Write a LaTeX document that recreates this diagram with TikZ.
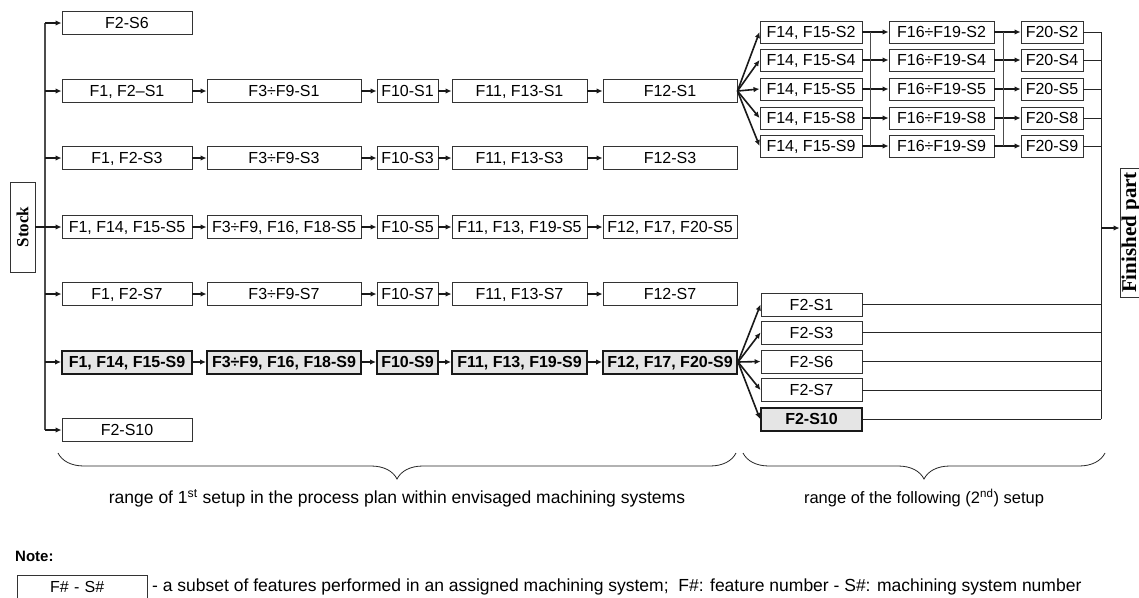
\documentclass[tikz,border=0pt]{standalone}
\usepackage{fontspec}
\setmainfont{Liberation Sans}
\newfontfamily\serifbold{Liberation Serif}
\usetikzlibrary{arrows.meta,decorations.pathreplacing}
\begin{document}
\begin{tikzpicture}[x=1pt,y=-1pt,
  box/.style={draw=black!80, line width=0.9pt, inner sep=0pt, minimum height=23pt,
              text height=11.5pt, text depth=0pt,
              font=\fontsize{16}{18}\selectfont},
  hbox/.style={box, line width=2pt, draw=black!90, fill=black!10,
              font=\fontsize{16}{18}\selectfont\bfseries},
  endbox/.style={draw=black!80, line width=0.9pt, inner sep=0pt, rotate=90,
              font=\serifbold\bfseries\fontsize{17}{19}\selectfont},
  arr/.style={-{Latex[length=6pt,width=5.5pt]}, line width=1.8pt, black!90},
  farr/.style={-{Latex[length=6pt,width=5.5pt]}, line width=1.6pt, black!90},
  conn/.style={line width=0.9pt, black!85},
  busline/.style={line width=1.2pt, black!70},
  brc/.style={decorate, decoration={brace, mirror, amplitude=26pt}, line width=0.8pt, black!85},
  lab/.style={font=\fontsize{17.5}{19}\selectfont}]

\useasboundingbox (0,0) rectangle (1139,597);

% Stock and bus
\node[endbox, minimum width=90pt, minimum height=25pt] (stock) at (22.5,227) {Stock};
\coordinate (bus) at (45,0);
\draw[busline] (45,23) -- (45,430);

% first setup rows
\node[box, minimum width=130pt] (a0) at (127,23) {F2-S6};

\node[box, minimum width=130pt] (r1a) at (127,91) {F1, F2–S1};
\node[box, minimum width=154pt] (r1b) at (284,91) {F3÷F9-S1};
\node[box, minimum width=61pt]  (r1c) at (407.5,91) {F10-S1};
\node[box, minimum width=135pt] (r1d) at (519.5,91) {F11, F13-S1};
\node[box, minimum width=134pt] (r1e) at (670,91) {F12-S1};

\node[box, minimum width=130pt] (r2a) at (127,158) {F1, F2-S3};
\node[box, minimum width=154pt] (r2b) at (284,158) {F3÷F9-S3};
\node[box, minimum width=61pt]  (r2c) at (407.5,158) {F10-S3};
\node[box, minimum width=135pt] (r2d) at (519.5,158) {F11, F13-S3};
\node[box, minimum width=134pt] (r2e) at (670,158) {F12-S3};

\node[box, minimum width=130pt] (r3a) at (127,227) {F1, F14, F15-S5};
\node[box, minimum width=154pt] (r3b) at (284,227) {F3÷F9, F16, F18-S5};
\node[box, minimum width=61pt]  (r3c) at (407.5,227) {F10-S5};
\node[box, minimum width=135pt] (r3d) at (519.5,227) {F11, F13, F19-S5};
\node[box, minimum width=134pt] (r3e) at (670,227) {F12, F17, F20-S5};

\node[box, minimum width=130pt] (r4a) at (127,294) {F1, F2-S7};
\node[box, minimum width=154pt] (r4b) at (284,294) {F3÷F9-S7};
\node[box, minimum width=61pt]  (r4c) at (407.5,294) {F10-S7};
\node[box, minimum width=135pt] (r4d) at (519.5,294) {F11, F13-S7};
\node[box, minimum width=134pt] (r4e) at (670,294) {F12-S7};

\node[hbox, minimum width=130pt] (r5a) at (127,362) {F1, F14, F15-S9};
\node[hbox, minimum width=154pt] (r5b) at (284,362) {F3÷F9, F16, F18-S9};
\node[hbox, minimum width=61pt]  (r5c) at (407.5,362) {F10-S9};
\node[hbox, minimum width=135pt] (r5d) at (519.5,362) {F11, F13, F19-S9};
\node[hbox, minimum width=134pt] (r5e) at (670,362) {F12, F17, F20-S9};

\node[box, minimum width=130pt] (a6) at (127,430) {F2-S10};

% arrows from bus / stock
\draw[arr] (stock.south) -- (r3a.west);
\foreach \n in {a0,r1a,r2a,r4a,r5a,a6} {\draw[arr] (bus |- \n.west) -- (\n.west);}
\foreach \r in {1,...,5} {
  \draw[arr] (r\r a) -- (r\r b);
  \draw[arr] (r\r b) -- (r\r c);
  \draw[arr] (r\r c) -- (r\r d);
  \draw[arr] (r\r d) -- (r\r e);
}

% second setup (top right)
\coordinate (cb) at (1101,0);
\foreach \s/\y in {2/32,4/60,5/89,8/118,9/146} {
  \node[box, minimum width=102pt, minimum height=22pt] (p\s) at (811,\y) {F14, F15-S\s};
  \node[box, minimum width=105pt, minimum height=22pt] (q\s) at (941.5,\y) {F16÷F19-S\s};
  \node[box, minimum width=62pt, minimum height=22pt]  (u\s) at (1052,\y) {F20-S\s};
  \draw[farr] (r1e.east) -- (p\s.west);
  \draw[farr] (p\s) -- (q\s);
  \draw[arr] (q\s) -- (u\s);
  \draw[conn] (u\s.east) -- (cb |- u\s.east);
}
\draw[busline] ([xshift=8pt]p2.east) -- ([xshift=8pt]p9.east);
\draw[busline] ([xshift=9pt]q2.east) -- ([xshift=9pt]q9.east);

% second setup (bottom right)
\foreach \s/\y in {1/304.5,3/332.5,6/361.5,7/390} {
  \node[box, minimum width=101pt] (v\s) at (811.5,\y) {F2-S\s};
  \draw[farr] (r5e.east) -- (v\s.west);
  \draw[conn] (v\s.east) -- (cb |- v\s.east);
}
\node[hbox, minimum width=101pt] (v10) at (811.5,419) {F2-S10};
\draw[farr] (r5e.east) -- (v10.west);
\draw[conn] (v10.east) -- (cb |- v10.east);

% collector and finished part
\draw[conn] (cb |- u2.east) -- (cb |- v10.east);
\node[endbox, minimum width=129pt, minimum height=22pt,
      font=\serifbold\bfseries\fontsize{21}{23}\selectfont] (fin) at (1131,232.5) {Finished part};
\coordinate (cf) at (1101,228);
\draw[arr] (cf) -- (cf -| fin.north);

% braces and labels
\draw[brc] (58,453) -- (736,453);
\draw[brc] (743,453) -- (1105,453);
\node[lab] (t1) at (397,498) {range of 1\textsuperscript{st} setup in the process plan within envisaged machining systems};
\node[lab, font=\fontsize{16.5}{19}\selectfont] (t2) at (924,498) {range of the following (2\textsuperscript{nd}) setup};

% note
\node[anchor=west, inner sep=0pt, font=\fontsize{15}{17}\selectfont\bfseries] (note) at (15,556) {Note:};
\node[box, minimum width=130pt, text width=118pt, align=left, xshift=0pt] (nb) at (82,586.5) {\hspace*{27pt}F\# - S\#};
\node[lab, anchor=west, inner sep=0pt] (nt) at (152,587) {- a subset of features performed in an assigned machining system;\ \ F\#: feature number - S\#: machining system number};
\end{tikzpicture}
\end{document}
